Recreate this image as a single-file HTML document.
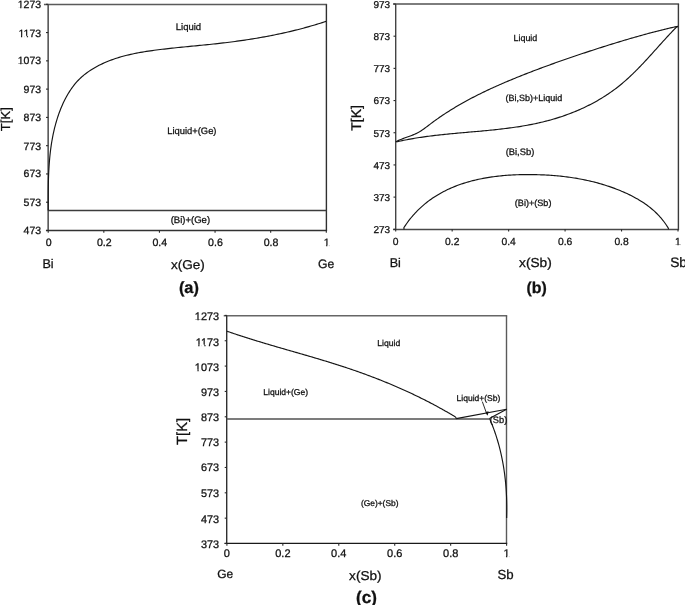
<!DOCTYPE html>
<html><head><meta charset="utf-8"><style>
html,body{margin:0;padding:0;background:#fff;}
svg{display:block;filter:grayscale(1);}
text{font-family:"Liberation Sans",sans-serif;stroke:#111;stroke-width:0.28px;text-rendering:geometricPrecision;}
</style></head><body>
<svg width="685" height="605" viewBox="0 0 685 605">
<rect width="685" height="605" fill="#fff"/>
<line x1="43.95" y1="4.50" x2="327.10" y2="4.50" stroke="#5a5a5a" stroke-width="1.6"/>
<line x1="48.15" y1="4.50" x2="48.15" y2="230.50" stroke="#4a4a4a" stroke-width="1.5"/>
<line x1="326.40" y1="4.50" x2="326.40" y2="230.50" stroke="#303030" stroke-width="1.4"/>
<line x1="45.95" y1="230.50" x2="327.10" y2="230.50" stroke="#323232" stroke-width="1.5"/>
<line x1="46.00" y1="4.30" x2="48.20" y2="4.30" stroke="#2a2a2a" stroke-width="1.1"/>
<g transform="translate(17.71,8.12) scale(1.000,1)"><text font-size="10.50" fill="#111">1273</text><rect x="-0.10" y="-1.00" width="2.58" height="2.31" fill="#fff"/><rect x="3.72" y="-1.00" width="2.12" height="2.31" fill="#fff"/></g>
<line x1="46.00" y1="32.57" x2="48.20" y2="32.57" stroke="#2a2a2a" stroke-width="1.1"/>
<g transform="translate(18.50,36.80) scale(1.000,1)"><text font-size="10.50" fill="#111">1173</text><rect x="-0.10" y="-1.00" width="2.58" height="2.31" fill="#fff"/><rect x="3.72" y="-1.00" width="2.12" height="2.31" fill="#fff"/><rect x="5.73" y="-1.00" width="2.58" height="2.31" fill="#fff"/><rect x="9.56" y="-1.00" width="2.12" height="2.31" fill="#fff"/></g>
<line x1="46.00" y1="60.85" x2="48.20" y2="60.85" stroke="#2a2a2a" stroke-width="1.1"/>
<g transform="translate(17.71,64.47) scale(1.000,1)"><text font-size="10.50" fill="#111">1073</text><rect x="-0.10" y="-1.00" width="2.58" height="2.31" fill="#fff"/><rect x="3.72" y="-1.00" width="2.12" height="2.31" fill="#fff"/></g>
<line x1="46.00" y1="89.12" x2="48.20" y2="89.12" stroke="#2a2a2a" stroke-width="1.1"/>
<text transform="translate(23.59,92.95) scale(1.000,1)" font-size="10.50" fill="#111">973</text>
<line x1="46.00" y1="117.40" x2="48.20" y2="117.40" stroke="#2a2a2a" stroke-width="1.1"/>
<text transform="translate(23.59,121.22) scale(1.000,1)" font-size="10.50" fill="#111">873</text>
<line x1="46.00" y1="145.68" x2="48.20" y2="145.68" stroke="#2a2a2a" stroke-width="1.1"/>
<text transform="translate(23.59,149.70) scale(1.000,1)" font-size="10.50" fill="#111">773</text>
<line x1="46.00" y1="173.95" x2="48.20" y2="173.95" stroke="#2a2a2a" stroke-width="1.1"/>
<text transform="translate(23.59,177.37) scale(1.000,1)" font-size="10.50" fill="#111">673</text>
<line x1="46.00" y1="202.22" x2="48.20" y2="202.22" stroke="#2a2a2a" stroke-width="1.1"/>
<text transform="translate(23.59,206.45) scale(1.000,1)" font-size="10.50" fill="#111">573</text>
<line x1="46.00" y1="230.50" x2="48.20" y2="230.50" stroke="#2a2a2a" stroke-width="1.1"/>
<text transform="translate(23.59,233.52) scale(1.000,1)" font-size="10.50" fill="#111">473</text>
<line x1="48.20" y1="230.50" x2="48.20" y2="232.70" stroke="#2a2a2a" stroke-width="1.1"/>
<text transform="translate(45.66,246.06) scale(1.000,1)" font-size="10.60" fill="#111">0</text>
<line x1="103.82" y1="230.50" x2="103.82" y2="232.70" stroke="#2a2a2a" stroke-width="1.1"/>
<text transform="translate(96.91,246.06) scale(1.000,1)" font-size="10.60" fill="#111">0.2</text>
<line x1="159.44" y1="230.50" x2="159.44" y2="232.70" stroke="#2a2a2a" stroke-width="1.1"/>
<text transform="translate(152.42,246.06) scale(1.000,1)" font-size="10.60" fill="#111">0.4</text>
<line x1="215.06" y1="230.50" x2="215.06" y2="232.70" stroke="#2a2a2a" stroke-width="1.1"/>
<text transform="translate(208.12,246.06) scale(1.000,1)" font-size="10.60" fill="#111">0.6</text>
<line x1="270.68" y1="230.50" x2="270.68" y2="232.70" stroke="#2a2a2a" stroke-width="1.1"/>
<text transform="translate(263.71,246.06) scale(1.000,1)" font-size="10.60" fill="#111">0.8</text>
<line x1="326.30" y1="230.50" x2="326.30" y2="232.70" stroke="#2a2a2a" stroke-width="1.1"/>
<g transform="translate(323.63,246.06) scale(1.000,1)"><text font-size="10.60" fill="#111">1</text><rect x="-0.11" y="-1.01" width="2.61" height="2.33" fill="#fff"/><rect x="3.75" y="-1.01" width="2.14" height="2.33" fill="#fff"/></g>
<line x1="48.15" y1="210.50" x2="326.40" y2="210.50" stroke="#3c3c3c" stroke-width="1.4"/>
<path d="M48.20,210.50 L48.22,208.51 L48.21,206.54 L48.21,204.57 L48.21,202.60 L48.20,200.62 L48.21,198.64 L48.21,196.67 L48.22,194.68 L48.23,192.70 L48.24,190.72 L48.27,188.73 L48.29,186.74 L48.33,184.76 L48.37,182.77 L48.42,180.78 L48.48,178.79 L48.54,176.80 L48.62,174.82 L48.70,172.83 L48.80,170.84 L48.90,168.85 L49.02,166.87 L49.15,164.88 L49.29,162.90 L49.45,160.92 L49.62,158.94 L49.80,156.96 L50.00,154.99 L50.22,153.02 L50.45,151.05 L50.69,149.08 L50.96,147.12 L51.24,145.16 L51.54,143.20 L51.86,141.25 L52.20,139.30 L52.56,137.35 L52.94,135.41 L53.34,133.48 L53.76,131.55 L54.20,129.62 L54.67,127.70 L55.16,125.78 L55.68,123.87 L56.22,121.97 L56.78,120.07 L57.37,118.18 L57.99,116.30 L58.63,114.42 L59.30,112.55 L60.00,110.68 L60.73,108.83 L61.48,106.99 L62.27,105.16 L63.09,103.34 L63.94,101.54 L64.82,99.76 L65.74,97.99 L66.69,96.25 L67.68,94.52 L68.70,92.82 L69.76,91.15 L70.86,89.50 L71.99,87.88 L73.16,86.28 L74.38,84.72 L75.63,83.20 L76.93,81.71 L78.28,80.26 L79.67,78.86 L81.10,77.50 L82.58,76.19 L84.10,74.92 L85.66,73.70 L87.25,72.51 L88.87,71.37 L90.52,70.27 L92.19,69.21 L93.89,68.18 L95.60,67.20 L97.33,66.25 L99.07,65.33 L100.83,64.45 L102.61,63.61 L104.40,62.79 L106.20,62.01 L108.02,61.26 L109.85,60.54 L111.69,59.85 L113.54,59.19 L115.41,58.56 L117.29,57.95 L119.17,57.37 L121.07,56.81 L122.98,56.28 L124.89,55.77 L126.81,55.28 L128.74,54.82 L130.68,54.37 L132.63,53.94 L134.58,53.54 L136.53,53.15 L138.49,52.77 L140.46,52.42 L142.43,52.08 L144.40,51.75 L146.38,51.43 L148.35,51.13 L150.33,50.84 L152.31,50.56 L154.30,50.29 L156.28,50.03 L158.26,49.78 L160.24,49.53 L162.22,49.29 L164.20,49.06 L166.18,48.83 L168.15,48.61 L170.13,48.39 L172.10,48.17 L174.08,47.96 L176.05,47.76 L178.02,47.55 L179.99,47.35 L181.96,47.15 L183.93,46.96 L185.90,46.77 L187.86,46.57 L189.83,46.38 L191.80,46.19 L193.77,46.00 L195.73,45.81 L197.70,45.62 L199.66,45.43 L201.63,45.24 L203.59,45.04 L205.56,44.85 L207.52,44.65 L209.49,44.45 L211.45,44.24 L213.42,44.04 L215.38,43.83 L217.35,43.61 L219.32,43.39 L221.28,43.17 L223.25,42.94 L225.21,42.71 L227.18,42.47 L229.15,42.22 L231.11,41.97 L233.08,41.72 L235.05,41.46 L237.01,41.19 L238.98,40.92 L240.95,40.64 L242.91,40.36 L244.88,40.07 L246.84,39.77 L248.80,39.47 L250.77,39.16 L252.73,38.85 L254.69,38.53 L256.65,38.20 L258.61,37.87 L260.57,37.53 L262.52,37.18 L264.48,36.83 L266.43,36.47 L268.39,36.10 L270.34,35.73 L272.29,35.34 L274.24,34.95 L276.18,34.56 L278.13,34.15 L280.07,33.74 L282.01,33.32 L283.95,32.90 L285.89,32.46 L287.82,32.02 L289.76,31.57 L291.69,31.11 L293.62,30.64 L295.54,30.17 L297.47,29.69 L299.39,29.20 L301.30,28.70 L303.22,28.19 L305.13,27.67 L307.04,27.14 L308.95,26.61 L310.85,26.06 L312.75,25.51 L314.65,24.95 L316.55,24.38 L318.44,23.80 L320.33,23.21 L322.21,22.61 L324.09,22.00 L326.00,21.40" fill="none" stroke="#141414" stroke-width="1.15" stroke-linejoin="round"/>
<text transform="translate(175.74,29.55) scale(1.000,1)" font-size="9.50" font-weight="normal" fill="#111">Liquid</text>
<text transform="translate(167.25,133.82) scale(1.000,1)" font-size="9.39" font-weight="normal" fill="#111">Liquid+(Ge)</text>
<text transform="translate(170.63,222.71) scale(1.000,1)" font-size="9.54" font-weight="normal" fill="#111">(Bi)+(Ge)</text>
<text transform="translate(42.49,267.96) scale(1.000,1)" font-size="12.57" font-weight="normal" fill="#111">Bi</text>
<text transform="translate(170.90,268.73) scale(1.060,1)" font-size="12.75" font-weight="normal" fill="#111">x(Ge)</text>
<text transform="translate(318.09,268.30) scale(1.000,1)" font-size="12.18" font-weight="normal" fill="#111">Ge</text>
<text transform="translate(178.88,292.51) scale(1.000,1)" font-size="16.36" font-weight="bold" fill="#111">(a)</text>
<text transform="translate(10.31,131.16) rotate(-90) scale(1.000,1)" font-size="13.05" fill="#111">T[K]</text>
<line x1="393.10" y1="4.00" x2="679.10" y2="4.00" stroke="#525252" stroke-width="1.5"/>
<line x1="395.70" y1="4.00" x2="395.70" y2="229.50" stroke="#444444" stroke-width="1.4"/>
<line x1="678.40" y1="4.00" x2="678.40" y2="229.50" stroke="#3a3a3a" stroke-width="1.4"/>
<line x1="393.10" y1="229.50" x2="679.10" y2="229.50" stroke="#484848" stroke-width="1.4"/>
<line x1="393.50" y1="4.00" x2="395.70" y2="4.00" stroke="#2a2a2a" stroke-width="1.1"/>
<text transform="translate(373.40,7.90) scale(1.000,1)" font-size="10.00" fill="#111">973</text>
<line x1="393.50" y1="36.19" x2="395.70" y2="36.19" stroke="#2a2a2a" stroke-width="1.1"/>
<text transform="translate(373.40,40.09) scale(1.000,1)" font-size="10.00" fill="#111">873</text>
<line x1="393.50" y1="68.37" x2="395.70" y2="68.37" stroke="#2a2a2a" stroke-width="1.1"/>
<text transform="translate(373.40,72.27) scale(1.000,1)" font-size="10.00" fill="#111">773</text>
<line x1="393.50" y1="100.56" x2="395.70" y2="100.56" stroke="#2a2a2a" stroke-width="1.1"/>
<text transform="translate(373.40,104.46) scale(1.000,1)" font-size="10.00" fill="#111">673</text>
<line x1="393.50" y1="132.74" x2="395.70" y2="132.74" stroke="#2a2a2a" stroke-width="1.1"/>
<text transform="translate(373.40,136.64) scale(1.000,1)" font-size="10.00" fill="#111">573</text>
<line x1="393.50" y1="164.93" x2="395.70" y2="164.93" stroke="#2a2a2a" stroke-width="1.1"/>
<text transform="translate(373.40,168.83) scale(1.000,1)" font-size="10.00" fill="#111">473</text>
<line x1="393.50" y1="197.11" x2="395.70" y2="197.11" stroke="#2a2a2a" stroke-width="1.1"/>
<text transform="translate(373.40,201.01) scale(1.000,1)" font-size="10.00" fill="#111">373</text>
<line x1="393.50" y1="229.30" x2="395.70" y2="229.30" stroke="#2a2a2a" stroke-width="1.1"/>
<text transform="translate(373.40,233.20) scale(1.000,1)" font-size="10.00" fill="#111">273</text>
<line x1="395.70" y1="229.30" x2="395.70" y2="231.50" stroke="#2a2a2a" stroke-width="1.1"/>
<text transform="translate(392.84,245.35) scale(1.000,1)" font-size="10.30" fill="#111">0</text>
<line x1="452.16" y1="229.30" x2="452.16" y2="231.50" stroke="#2a2a2a" stroke-width="1.1"/>
<text transform="translate(445.05,245.35) scale(1.000,1)" font-size="10.30" fill="#111">0.2</text>
<line x1="508.62" y1="229.30" x2="508.62" y2="231.50" stroke="#2a2a2a" stroke-width="1.1"/>
<text transform="translate(501.41,245.35) scale(1.000,1)" font-size="10.30" fill="#111">0.4</text>
<line x1="565.08" y1="229.30" x2="565.08" y2="231.50" stroke="#2a2a2a" stroke-width="1.1"/>
<text transform="translate(557.95,245.35) scale(1.000,1)" font-size="10.30" fill="#111">0.6</text>
<line x1="621.54" y1="229.30" x2="621.54" y2="231.50" stroke="#2a2a2a" stroke-width="1.1"/>
<text transform="translate(614.38,245.35) scale(1.000,1)" font-size="10.30" fill="#111">0.8</text>
<line x1="678.00" y1="229.30" x2="678.00" y2="231.50" stroke="#2a2a2a" stroke-width="1.1"/>
<g transform="translate(675.01,245.35) scale(1.000,1)"><text font-size="10.30" fill="#111">1</text><rect x="-0.10" y="-0.98" width="2.53" height="2.27" fill="#fff"/><rect x="3.65" y="-0.98" width="2.08" height="2.27" fill="#fff"/></g>
<path d="M395.90,141.70 L397.27,141.00 L398.67,140.36 L400.09,139.75 L401.53,139.17 L402.97,138.62 L404.42,138.08 L405.88,137.55 L407.34,137.03 L408.79,136.50 L410.24,135.97 L411.68,135.42 L413.11,134.85 L414.52,134.26 L415.91,133.63 L417.28,132.96 L418.63,132.25 L419.95,131.49 L421.24,130.68 L422.52,129.84 L423.77,128.97 L425.02,128.07 L426.25,127.16 L427.48,126.23 L428.70,125.29 L429.93,124.35 L431.16,123.41 L432.40,122.48 L433.64,121.56 L434.89,120.65 L436.14,119.75 L437.40,118.85 L438.67,117.96 L439.94,117.08 L441.22,116.21 L442.50,115.35 L443.78,114.49 L445.07,113.64 L446.36,112.80 L447.66,111.96 L448.96,111.14 L450.27,110.32 L451.57,109.50 L452.89,108.70 L454.21,107.90 L455.53,107.10 L456.85,106.32 L458.18,105.54 L459.51,104.77 L460.85,104.00 L462.19,103.24 L463.53,102.48 L464.88,101.74 L466.23,101.00 L467.58,100.26 L468.94,99.53 L470.30,98.81 L471.66,98.09 L473.03,97.37 L474.39,96.67 L475.77,95.97 L477.14,95.27 L478.52,94.58 L479.90,93.89 L481.28,93.21 L482.67,92.54 L484.05,91.87 L485.44,91.20 L486.84,90.54 L488.23,89.88 L489.63,89.23 L491.03,88.58 L492.43,87.94 L493.83,87.30 L495.24,86.66 L496.65,86.03 L498.06,85.41 L499.47,84.79 L500.88,84.17 L502.30,83.55 L503.71,82.94 L505.13,82.33 L506.55,81.73 L507.97,81.13 L509.39,80.53 L510.82,79.94 L512.24,79.35 L513.67,78.76 L515.10,78.17 L516.52,77.59 L517.95,77.01 L519.38,76.44 L520.82,75.86 L522.25,75.29 L523.68,74.72 L525.12,74.16 L526.55,73.60 L527.99,73.04 L529.43,72.48 L530.86,71.92 L532.30,71.37 L533.74,70.82 L535.18,70.27 L536.63,69.73 L538.07,69.18 L539.51,68.64 L540.96,68.10 L542.40,67.57 L543.85,67.03 L545.29,66.50 L546.74,65.97 L548.19,65.44 L549.64,64.92 L551.09,64.39 L552.54,63.87 L553.99,63.35 L555.44,62.83 L556.89,62.32 L558.35,61.80 L559.80,61.29 L561.25,60.78 L562.71,60.27 L564.16,59.76 L565.62,59.26 L567.07,58.75 L568.53,58.25 L569.99,57.75 L571.45,57.25 L572.90,56.75 L574.36,56.26 L575.82,55.76 L577.28,55.27 L578.74,54.78 L580.20,54.29 L581.67,53.80 L583.13,53.31 L584.59,52.83 L586.06,52.34 L587.52,51.86 L588.98,51.38 L590.45,50.90 L591.91,50.43 L593.38,49.95 L594.85,49.48 L596.31,49.00 L597.78,48.53 L599.25,48.06 L600.72,47.60 L602.19,47.13 L603.66,46.66 L605.13,46.20 L606.60,45.74 L608.07,45.28 L609.54,44.82 L611.02,44.36 L612.49,43.90 L613.96,43.45 L615.44,43.00 L616.91,42.54 L618.39,42.10 L619.86,41.65 L621.34,41.20 L622.82,40.76 L624.30,40.31 L625.77,39.87 L627.25,39.44 L628.73,39.00 L630.21,38.57 L631.69,38.14 L633.17,37.71 L634.66,37.28 L636.14,36.86 L637.62,36.44 L639.11,36.02 L640.59,35.60 L642.08,35.19 L643.56,34.78 L645.05,34.37 L646.54,33.96 L648.03,33.56 L649.52,33.16 L651.01,32.77 L652.50,32.37 L653.99,31.98 L655.48,31.60 L656.97,31.22 L658.47,30.84 L659.96,30.46 L661.46,30.09 L662.95,29.72 L664.45,29.35 L665.95,28.99 L667.45,28.63 L668.95,28.28 L670.45,27.93 L671.95,27.59 L673.45,27.24 L674.95,26.91 L676.46,26.57 L678.00,26.40" fill="none" stroke="#141414" stroke-width="1.15" stroke-linejoin="round"/>
<path d="M395.90,141.80 L397.60,141.65 L399.14,141.30 L400.68,140.96 L402.23,140.63 L403.77,140.31 L405.32,140.00 L406.87,139.69 L408.42,139.40 L409.98,139.11 L411.53,138.83 L413.09,138.56 L414.65,138.29 L416.22,138.04 L417.78,137.79 L419.35,137.54 L420.92,137.31 L422.49,137.08 L424.06,136.85 L425.63,136.63 L427.21,136.42 L428.78,136.21 L430.36,136.01 L431.94,135.81 L433.52,135.62 L435.11,135.43 L436.69,135.25 L438.27,135.07 L439.86,134.90 L441.45,134.73 L443.03,134.56 L444.62,134.40 L446.21,134.23 L447.80,134.08 L449.40,133.92 L450.99,133.77 L452.58,133.62 L454.17,133.47 L455.77,133.32 L457.36,133.18 L458.96,133.03 L460.56,132.89 L462.15,132.75 L463.75,132.61 L465.35,132.47 L466.94,132.33 L468.54,132.19 L470.14,132.05 L471.74,131.92 L473.33,131.78 L474.93,131.63 L476.53,131.49 L478.13,131.35 L479.72,131.21 L481.32,131.06 L482.92,130.91 L484.52,130.77 L486.11,130.61 L487.71,130.46 L489.30,130.30 L490.90,130.15 L492.49,129.98 L494.09,129.82 L495.68,129.65 L497.27,129.48 L498.86,129.30 L500.45,129.12 L502.04,128.94 L503.63,128.75 L505.22,128.55 L506.80,128.36 L508.39,128.15 L509.97,127.94 L511.56,127.73 L513.14,127.51 L514.72,127.28 L516.30,127.05 L517.87,126.81 L519.45,126.56 L521.03,126.31 L522.60,126.05 L524.17,125.78 L525.74,125.51 L527.31,125.23 L528.87,124.94 L530.44,124.64 L532.00,124.33 L533.56,124.02 L535.12,123.69 L536.67,123.36 L538.23,123.02 L539.78,122.67 L541.33,122.31 L542.87,121.94 L544.42,121.55 L545.96,121.16 L547.50,120.76 L549.04,120.35 L550.57,119.93 L552.11,119.49 L553.63,119.05 L555.16,118.60 L556.68,118.13 L558.20,117.66 L559.72,117.17 L561.23,116.68 L562.74,116.17 L564.24,115.65 L565.74,115.12 L567.23,114.58 L568.73,114.03 L570.21,113.47 L571.69,112.89 L573.17,112.31 L574.65,111.71 L576.11,111.11 L577.58,110.49 L579.03,109.86 L580.49,109.22 L581.93,108.57 L583.37,107.90 L584.81,107.23 L586.24,106.54 L587.66,105.84 L589.08,105.13 L590.49,104.41 L591.90,103.68 L593.29,102.93 L594.69,102.18 L596.07,101.41 L597.45,100.63 L598.82,99.83 L600.18,99.03 L601.54,98.21 L602.89,97.38 L604.23,96.54 L605.57,95.69 L606.89,94.82 L608.21,93.94 L609.52,93.05 L610.82,92.15 L612.12,91.24 L613.40,90.31 L614.68,89.37 L615.95,88.42 L617.21,87.45 L618.46,86.47 L619.70,85.48 L620.93,84.48 L622.16,83.46 L623.37,82.43 L624.58,81.39 L625.77,80.34 L626.96,79.28 L628.15,78.21 L629.32,77.13 L630.49,76.04 L631.65,74.94 L632.80,73.83 L633.95,72.71 L635.09,71.59 L636.23,70.45 L637.36,69.31 L638.48,68.17 L639.60,67.02 L640.72,65.86 L641.83,64.69 L642.94,63.53 L644.04,62.35 L645.13,61.18 L646.23,60.00 L647.32,58.81 L648.41,57.63 L649.49,56.44 L650.57,55.25 L651.65,54.05 L652.73,52.86 L653.81,51.66 L654.88,50.47 L655.96,49.27 L657.03,48.08 L658.10,46.89 L659.17,45.69 L660.24,44.50 L661.31,43.31 L662.38,42.13 L663.45,40.95 L664.52,39.77 L665.60,38.59 L666.67,37.42 L667.75,36.25 L668.82,35.09 L669.90,33.93 L670.98,32.78 L672.07,31.64 L673.16,30.50 L674.25,29.37 L675.34,28.24 L676.44,27.13 L678.00,26.40" fill="none" stroke="#141414" stroke-width="1.15" stroke-linejoin="round"/>
<path d="M404.10,229.30 L403.83,227.76 L404.71,226.41 L405.61,225.07 L406.51,223.76 L407.44,222.47 L408.38,221.20 L409.33,219.95 L410.30,218.72 L411.28,217.51 L412.27,216.33 L413.28,215.16 L414.30,214.02 L415.34,212.89 L416.38,211.79 L417.44,210.70 L418.52,209.64 L419.60,208.59 L420.70,207.56 L421.81,206.56 L422.93,205.57 L424.06,204.60 L425.21,203.65 L426.37,202.72 L427.53,201.81 L428.71,200.91 L429.90,200.04 L431.10,199.18 L432.32,198.34 L433.54,197.52 L434.77,196.71 L436.01,195.93 L437.26,195.16 L438.53,194.40 L439.80,193.67 L441.08,192.95 L442.37,192.25 L443.67,191.56 L444.98,190.89 L446.29,190.24 L447.62,189.60 L448.95,188.98 L450.30,188.37 L451.65,187.78 L453.01,187.21 L454.37,186.65 L455.74,186.10 L457.13,185.57 L458.51,185.06 L459.91,184.56 L461.31,184.07 L462.72,183.60 L464.14,183.14 L465.56,182.70 L466.99,182.27 L468.42,181.85 L469.86,181.45 L471.31,181.06 L472.76,180.68 L474.21,180.32 L475.68,179.97 L477.14,179.63 L478.61,179.30 L480.09,178.99 L481.57,178.69 L483.06,178.40 L484.55,178.12 L486.04,177.86 L487.54,177.60 L489.04,177.36 L490.54,177.13 L492.05,176.91 L493.56,176.70 L495.07,176.51 L496.59,176.32 L498.11,176.14 L499.63,175.97 L501.15,175.82 L502.68,175.67 L504.21,175.53 L505.74,175.41 L507.27,175.29 L508.80,175.18 L510.34,175.08 L511.87,174.99 L513.41,174.91 L514.94,174.84 L516.48,174.78 L518.02,174.72 L519.56,174.68 L521.10,174.64 L522.63,174.61 L524.17,174.58 L525.71,174.57 L527.25,174.56 L528.78,174.56 L530.32,174.57 L531.85,174.58 L533.38,174.60 L534.92,174.63 L536.45,174.66 L537.97,174.70 L539.50,174.75 L541.03,174.81 L542.55,174.87 L544.07,174.94 L545.59,175.01 L547.11,175.10 L548.63,175.19 L550.14,175.28 L551.65,175.39 L553.17,175.50 L554.67,175.63 L556.18,175.75 L557.69,175.89 L559.19,176.04 L560.69,176.19 L562.19,176.35 L563.69,176.52 L565.18,176.70 L566.68,176.89 L568.17,177.08 L569.66,177.29 L571.14,177.50 L572.63,177.72 L574.11,177.95 L575.59,178.19 L577.06,178.44 L578.54,178.70 L580.01,178.97 L581.48,179.24 L582.95,179.53 L584.41,179.83 L585.87,180.13 L587.33,180.45 L588.79,180.77 L590.25,181.11 L591.70,181.45 L593.15,181.81 L594.59,182.17 L596.03,182.55 L597.47,182.93 L598.91,183.33 L600.35,183.73 L601.78,184.15 L603.21,184.58 L604.63,185.02 L606.06,185.47 L607.47,185.93 L608.89,186.40 L610.30,186.88 L611.72,187.38 L613.12,187.88 L614.53,188.40 L615.93,188.93 L617.32,189.47 L618.72,190.02 L620.11,190.59 L621.50,191.16 L622.88,191.75 L624.26,192.35 L625.63,192.96 L627.00,193.59 L628.36,194.23 L629.72,194.88 L631.07,195.55 L632.41,196.24 L633.74,196.93 L635.06,197.65 L636.38,198.38 L637.68,199.12 L638.98,199.88 L640.26,200.66 L641.53,201.46 L642.79,202.27 L644.04,203.10 L645.28,203.95 L646.50,204.82 L647.71,205.70 L648.90,206.61 L650.08,207.53 L651.25,208.48 L652.39,209.44 L653.52,210.43 L654.64,211.44 L655.73,212.46 L656.81,213.51 L657.87,214.58 L658.91,215.68 L659.93,216.79 L660.93,217.93 L661.91,219.09 L662.87,220.28 L663.81,221.49 L664.72,222.72 L665.61,223.98 L666.48,225.26 L667.33,226.57 L668.15,227.91 L668.60,229.30" fill="none" stroke="#141414" stroke-width="1.15" stroke-linejoin="round"/>
<text transform="translate(513.49,40.74) scale(1.000,1)" font-size="8.91" font-weight="normal" fill="#111">Liquid</text>
<text transform="translate(505.46,100.52) scale(1.000,1)" font-size="9.01" font-weight="normal" fill="#111">(Bi,Sb)+Liquid</text>
<text transform="translate(505.64,154.56) scale(1.000,1)" font-size="9.37" font-weight="normal" fill="#111">(Bi,Sb)</text>
<text transform="translate(514.85,205.99) scale(1.000,1)" font-size="9.09" font-weight="normal" fill="#111">(Bi)+(Sb)</text>
<text transform="translate(389.69,266.76) scale(1.000,1)" font-size="12.57" font-weight="normal" fill="#111">Bi</text>
<text transform="translate(519.09,266.77) scale(1.060,1)" font-size="12.91" font-weight="normal" fill="#111">x(Sb)</text>
<text transform="translate(670.18,267.26) scale(1.000,1)" font-size="13.74" font-weight="normal" fill="#111">Sb</text>
<text transform="translate(526.51,292.63) scale(1.000,1)" font-size="15.85" font-weight="bold" fill="#111">(b)</text>
<text transform="translate(361.01,130.78) rotate(-90) scale(1.000,1)" font-size="14.02" fill="#111">T[K]</text>
<line x1="223.70" y1="315.75" x2="507.20" y2="315.75" stroke="#666666" stroke-width="1.4"/>
<line x1="226.70" y1="315.75" x2="226.70" y2="543.45" stroke="#303030" stroke-width="1.4"/>
<line x1="506.50" y1="315.75" x2="506.50" y2="543.45" stroke="#5a5a5a" stroke-width="1.4"/>
<line x1="224.50" y1="543.45" x2="507.20" y2="543.45" stroke="#1a1a1a" stroke-width="1.2"/>
<line x1="224.70" y1="315.40" x2="226.90" y2="315.40" stroke="#2a2a2a" stroke-width="1.1"/>
<g transform="translate(194.84,320.46) scale(1.000,1)"><text font-size="10.90" fill="#111">1273</text><rect x="-0.11" y="-1.04" width="2.68" height="2.40" fill="#fff"/><rect x="3.86" y="-1.04" width="2.20" height="2.40" fill="#fff"/></g>
<line x1="224.70" y1="340.74" x2="226.90" y2="340.74" stroke="#2a2a2a" stroke-width="1.1"/>
<g transform="translate(195.66,345.60) scale(1.000,1)"><text font-size="10.90" fill="#111">1173</text><rect x="-0.11" y="-1.04" width="2.68" height="2.40" fill="#fff"/><rect x="3.86" y="-1.04" width="2.20" height="2.40" fill="#fff"/><rect x="5.95" y="-1.04" width="2.68" height="2.40" fill="#fff"/><rect x="9.92" y="-1.04" width="2.20" height="2.40" fill="#fff"/></g>
<line x1="224.70" y1="366.09" x2="226.90" y2="366.09" stroke="#2a2a2a" stroke-width="1.1"/>
<g transform="translate(194.84,370.55) scale(1.000,1)"><text font-size="10.90" fill="#111">1073</text><rect x="-0.11" y="-1.04" width="2.68" height="2.40" fill="#fff"/><rect x="3.86" y="-1.04" width="2.20" height="2.40" fill="#fff"/></g>
<line x1="224.70" y1="391.43" x2="226.90" y2="391.43" stroke="#2a2a2a" stroke-width="1.1"/>
<text transform="translate(200.94,395.79) scale(1.000,1)" font-size="10.90" fill="#111">973</text>
<line x1="224.70" y1="416.78" x2="226.90" y2="416.78" stroke="#2a2a2a" stroke-width="1.1"/>
<text transform="translate(200.94,420.94) scale(1.000,1)" font-size="10.90" fill="#111">873</text>
<line x1="224.70" y1="442.12" x2="226.90" y2="442.12" stroke="#2a2a2a" stroke-width="1.1"/>
<text transform="translate(200.94,445.88) scale(1.000,1)" font-size="10.90" fill="#111">773</text>
<line x1="224.70" y1="467.47" x2="226.90" y2="467.47" stroke="#2a2a2a" stroke-width="1.1"/>
<text transform="translate(200.94,471.43) scale(1.000,1)" font-size="10.90" fill="#111">673</text>
<line x1="224.70" y1="492.81" x2="226.90" y2="492.81" stroke="#2a2a2a" stroke-width="1.1"/>
<text transform="translate(200.94,497.27) scale(1.000,1)" font-size="10.90" fill="#111">573</text>
<line x1="224.70" y1="518.16" x2="226.90" y2="518.16" stroke="#2a2a2a" stroke-width="1.1"/>
<text transform="translate(200.94,522.92) scale(1.000,1)" font-size="10.90" fill="#111">473</text>
<line x1="224.70" y1="543.50" x2="226.90" y2="543.50" stroke="#2a2a2a" stroke-width="1.1"/>
<text transform="translate(200.94,548.16) scale(1.000,1)" font-size="10.90" fill="#111">373</text>
<line x1="226.90" y1="543.50" x2="226.90" y2="545.70" stroke="#2a2a2a" stroke-width="1.1"/>
<text transform="translate(223.85,557.09) scale(1.000,1)" font-size="11.00" fill="#111">0</text>
<line x1="282.84" y1="543.50" x2="282.84" y2="545.70" stroke="#2a2a2a" stroke-width="1.1"/>
<text transform="translate(275.25,557.09) scale(1.000,1)" font-size="11.00" fill="#111">0.2</text>
<line x1="338.78" y1="543.50" x2="338.78" y2="545.70" stroke="#2a2a2a" stroke-width="1.1"/>
<text transform="translate(331.08,557.09) scale(1.000,1)" font-size="11.00" fill="#111">0.4</text>
<line x1="394.72" y1="543.50" x2="394.72" y2="545.70" stroke="#2a2a2a" stroke-width="1.1"/>
<text transform="translate(387.10,557.09) scale(1.000,1)" font-size="11.00" fill="#111">0.6</text>
<line x1="450.66" y1="543.50" x2="450.66" y2="545.70" stroke="#2a2a2a" stroke-width="1.1"/>
<text transform="translate(443.02,557.09) scale(1.000,1)" font-size="11.00" fill="#111">0.8</text>
<line x1="506.60" y1="543.50" x2="506.60" y2="545.70" stroke="#2a2a2a" stroke-width="1.1"/>
<g transform="translate(503.41,557.09) scale(1.000,1)"><text font-size="11.00" fill="#111">1</text><rect x="-0.11" y="-1.04" width="2.71" height="2.42" fill="#fff"/><rect x="3.89" y="-1.04" width="2.22" height="2.42" fill="#fff"/></g>
<line x1="226.70" y1="419.05" x2="489.60" y2="419.05" stroke="#505050" stroke-width="1.5"/>
<path d="M227.10,331.40 L228.30,331.68 L229.47,332.08 L230.65,332.49 L231.82,332.89 L233.00,333.29 L234.17,333.68 L235.35,334.08 L236.52,334.47 L237.70,334.86 L238.88,335.24 L240.05,335.63 L241.23,336.01 L242.41,336.39 L243.59,336.77 L244.77,337.15 L245.95,337.53 L247.13,337.90 L248.31,338.28 L249.49,338.65 L250.67,339.02 L251.86,339.39 L253.04,339.75 L254.22,340.12 L255.41,340.48 L256.59,340.84 L257.77,341.20 L258.96,341.56 L260.14,341.92 L261.33,342.28 L262.51,342.64 L263.70,342.99 L264.88,343.35 L266.07,343.70 L267.25,344.05 L268.44,344.40 L269.63,344.75 L270.81,345.10 L272.00,345.45 L273.19,345.80 L274.37,346.15 L275.56,346.49 L276.75,346.84 L277.94,347.18 L279.12,347.53 L280.31,347.87 L281.50,348.22 L282.69,348.56 L283.88,348.90 L285.06,349.25 L286.25,349.59 L287.44,349.93 L288.63,350.28 L289.82,350.62 L291.01,350.96 L292.19,351.30 L293.38,351.64 L294.57,351.99 L295.76,352.33 L296.95,352.67 L298.13,353.01 L299.32,353.36 L300.51,353.70 L301.70,354.04 L302.89,354.39 L304.07,354.73 L305.26,355.08 L306.45,355.42 L307.63,355.77 L308.82,356.12 L310.01,356.46 L311.19,356.81 L312.38,357.16 L313.57,357.51 L314.75,357.86 L315.94,358.21 L317.12,358.56 L318.31,358.92 L319.49,359.27 L320.68,359.62 L321.86,359.98 L323.04,360.34 L324.23,360.70 L325.41,361.06 L326.59,361.42 L327.78,361.78 L328.96,362.14 L330.14,362.51 L331.32,362.87 L332.50,363.24 L333.68,363.61 L334.86,363.98 L336.04,364.36 L337.22,364.73 L338.40,365.11 L339.58,365.48 L340.75,365.86 L341.93,366.25 L343.11,366.63 L344.28,367.01 L345.46,367.40 L346.63,367.79 L347.81,368.18 L348.98,368.58 L350.15,368.97 L351.33,369.37 L352.50,369.77 L353.67,370.17 L354.84,370.58 L356.01,370.98 L357.18,371.39 L358.35,371.81 L359.51,372.22 L360.68,372.64 L361.85,373.05 L363.01,373.47 L364.18,373.90 L365.34,374.32 L366.51,374.75 L367.67,375.18 L368.83,375.61 L369.99,376.05 L371.15,376.49 L372.31,376.92 L373.47,377.37 L374.63,377.81 L375.78,378.26 L376.94,378.71 L378.09,379.16 L379.25,379.61 L380.40,380.07 L381.55,380.53 L382.70,380.99 L383.85,381.45 L385.00,381.92 L386.15,382.39 L387.29,382.86 L388.44,383.33 L389.58,383.81 L390.73,384.28 L391.87,384.76 L393.01,385.25 L394.15,385.73 L395.29,386.22 L396.43,386.71 L397.56,387.21 L398.70,387.70 L399.83,388.20 L400.96,388.70 L402.10,389.20 L403.23,389.71 L404.36,390.22 L405.48,390.73 L406.61,391.24 L407.73,391.76 L408.86,392.28 L409.98,392.80 L411.10,393.32 L412.22,393.85 L413.34,394.38 L414.46,394.91 L415.57,395.44 L416.69,395.98 L417.80,396.52 L418.91,397.06 L420.02,397.61 L421.13,398.16 L422.24,398.71 L423.34,399.26 L424.44,399.82 L425.55,400.37 L426.65,400.94 L427.75,401.50 L428.84,402.07 L429.94,402.63 L431.03,403.21 L432.13,403.78 L433.22,404.36 L434.31,404.94 L435.39,405.52 L436.48,406.11 L437.56,406.70 L438.65,407.29 L439.73,407.88 L440.81,408.48 L441.88,409.08 L442.96,409.68 L444.03,410.28 L445.10,410.89 L446.17,411.50 L447.24,412.12 L448.31,412.73 L449.37,413.35 L450.44,413.97 L451.50,414.60 L452.55,415.23 L453.61,415.86 L454.67,416.49 L455.72,417.13 L456.20,418.60" fill="none" stroke="#141414" stroke-width="1.15" stroke-linejoin="round"/>
<line x1="456.20" y1="418.60" x2="506.60" y2="409.30" stroke="#141414" stroke-width="1.15"/>
<line x1="506.60" y1="409.30" x2="489.90" y2="418.30" stroke="#141414" stroke-width="1.15"/>
<path d="M489.90,418.30 L489.71,418.89 L489.91,419.36 L490.12,419.83 L490.32,420.30 L490.52,420.77 L490.72,421.25 L490.91,421.72 L491.11,422.19 L491.30,422.67 L491.50,423.14 L491.69,423.62 L491.88,424.09 L492.07,424.57 L492.26,425.04 L492.44,425.52 L492.63,426.00 L492.81,426.48 L492.99,426.96 L493.17,427.43 L493.35,427.91 L493.53,428.39 L493.71,428.87 L493.88,429.35 L494.06,429.84 L494.23,430.32 L494.40,430.80 L494.57,431.28 L494.74,431.76 L494.91,432.25 L495.08,432.73 L495.24,433.21 L495.41,433.70 L495.57,434.18 L495.73,434.67 L495.89,435.15 L496.05,435.64 L496.21,436.13 L496.36,436.61 L496.52,437.10 L496.67,437.59 L496.82,438.08 L496.97,438.57 L497.12,439.05 L497.27,439.54 L497.42,440.03 L497.56,440.52 L497.71,441.01 L497.85,441.50 L497.99,441.99 L498.14,442.49 L498.28,442.98 L498.41,443.47 L498.55,443.96 L498.69,444.45 L498.82,444.95 L498.95,445.44 L499.09,445.93 L499.22,446.43 L499.35,446.92 L499.48,447.42 L499.60,447.91 L499.73,448.41 L499.85,448.90 L499.98,449.40 L500.10,449.90 L500.22,450.39 L500.34,450.89 L500.46,451.39 L500.58,451.88 L500.69,452.38 L500.81,452.88 L500.92,453.38 L501.04,453.88 L501.15,454.38 L501.26,454.88 L501.37,455.38 L501.47,455.87 L501.58,456.37 L501.69,456.88 L501.79,457.38 L501.90,457.88 L502.00,458.38 L502.10,458.88 L502.20,459.38 L502.30,459.88 L502.39,460.39 L502.49,460.89 L502.59,461.39 L502.68,461.89 L502.77,462.40 L502.86,462.90 L502.96,463.40 L503.05,463.91 L503.13,464.41 L503.22,464.92 L503.31,465.42 L503.39,465.92 L503.48,466.43 L503.56,466.93 L503.64,467.44 L503.72,467.95 L503.80,468.45 L503.88,468.96 L503.96,469.46 L504.03,469.97 L504.11,470.48 L504.18,470.98 L504.25,471.49 L504.32,472.00 L504.40,472.50 L504.46,473.01 L504.53,473.52 L504.60,474.03 L504.67,474.54 L504.73,475.04 L504.80,475.55 L504.86,476.06 L504.92,476.57 L504.98,477.08 L505.04,477.59 L505.10,478.10 L505.16,478.60 L505.22,479.11 L505.27,479.62 L505.33,480.13 L505.38,480.64 L505.43,481.15 L505.48,481.66 L505.53,482.17 L505.58,482.68 L505.63,483.19 L505.68,483.70 L505.72,484.21 L505.77,484.72 L505.81,485.24 L505.86,485.75 L505.90,486.26 L505.94,486.77 L505.98,487.28 L506.02,487.79 L506.06,488.30 L506.10,488.81 L506.13,489.32 L506.17,489.84 L506.20,490.35 L506.23,490.86 L506.27,491.37 L506.30,491.88 L506.33,492.40 L506.36,492.91 L506.38,493.42 L506.41,493.93 L506.44,494.44 L506.46,494.96 L506.49,495.47 L506.51,495.98 L506.53,496.49 L506.56,497.00 L506.58,497.52 L506.60,498.03 L506.61,498.54 L506.63,499.05 L506.65,499.57 L506.66,500.08 L506.68,500.59 L506.69,501.10 L506.71,501.62 L506.72,502.13 L506.73,502.64 L506.74,503.15 L506.75,503.67 L506.76,504.18 L506.76,504.69 L506.77,505.20 L506.78,505.72 L506.78,506.23 L506.78,506.74 L506.79,507.25 L506.79,507.77 L506.79,508.28 L506.79,508.79 L506.79,509.30 L506.79,509.81 L506.79,510.33 L506.78,510.84 L506.78,511.35 L506.77,511.86 L506.77,512.37 L506.76,512.89 L506.75,513.40 L506.74,513.91 L506.73,514.42 L506.72,514.93 L506.71,515.44 L506.70,515.96 L506.69,516.47 L506.67,516.98 L506.66,517.49 L506.70,518.00" fill="none" stroke="#141414" stroke-width="1.15" stroke-linejoin="round"/>
<line x1="482.30" y1="401.60" x2="487.00" y2="414.60" stroke="#141414" stroke-width="0.9"/>
<path d="M485.6,411.9 L488.6,411.2 L487.6,415.7 Z" fill="#111"/>
<text transform="translate(377.31,345.91) scale(1.000,1)" font-size="8.59" font-weight="normal" fill="#111">Liquid</text>
<text transform="translate(263.32,394.90) scale(1.000,1)" font-size="8.53" font-weight="normal" fill="#111">Liquid+(Ge)</text>
<text transform="translate(360.90,506.22) scale(1.000,1)" font-size="8.41" font-weight="normal" fill="#111">(Ge)+(Sb)</text>
<text transform="translate(456.62,400.79) scale(1.000,1)" font-size="8.50" font-weight="normal" fill="#111">Liquid+(Sb)</text>
<text transform="translate(489.74,423.24) scale(1.000,1)" font-size="9.29" font-weight="normal" fill="#111">(Sb)</text>
<text transform="translate(217.20,577.72) scale(1.000,1)" font-size="11.94" font-weight="normal" fill="#111">Ge</text>
<text transform="translate(349.10,579.95) scale(1.060,1)" font-size="12.82" font-weight="normal" fill="#111">x(Sb)</text>
<text transform="translate(497.41,578.62) scale(1.000,1)" font-size="13.22" font-weight="normal" fill="#111">Sb</text>
<text transform="translate(356.05,603.34) scale(1.000,1)" font-size="17.07" font-weight="bold" fill="#111">(c)</text>
<text transform="translate(186.79,444.89) rotate(-90) scale(1.000,1)" font-size="14.71" fill="#111">T[K]</text>
</svg>
</body></html>
